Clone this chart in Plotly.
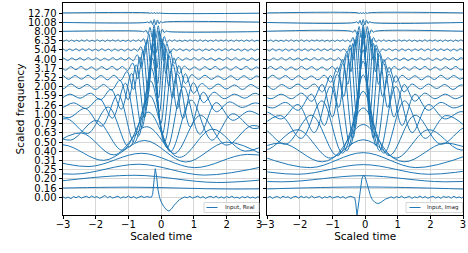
import plotly.graph_objects as go

# ---------------- data ----------------
FREQ_TICKS = ["0.00", "0.16", "0.20", "0.25", "0.31", "0.40", "0.50", "0.63", "0.79", "1.00",
              "1.26", "1.59", "2.00", "2.52", "3.17", "4.00", "5.04", "6.35", "8.00", "10.08", "12.70"]
FREQS = [0.16, 0.20, 0.25, 0.31, 0.40, 0.50, 0.63, 0.79, 1.00, 1.26,
         1.59, 2.00, 2.52, 3.17, 4.00, 5.04, 6.35, 8.00, 10.08, 12.70]
X_TICKS = [-3, -2, -1, 0, 1, 2, 3]

# input signals (row 0)
real_in_t = [-3.00, -2.92, -2.84, -2.76, -2.68, -2.60, -2.52, -2.44, -2.36, -2.28, -2.20, -2.12, -2.04, -1.96,
             -1.88, -1.80, -1.72, -1.64, -1.56, -1.48, -1.40, -1.32, -1.24, -1.16, -1.08, -1.00, -0.92, -0.84,
             -0.76, -0.68, -0.60, -0.52, -0.44, -0.36,
             -0.30, -0.26, -0.22, -0.18, -0.14, -0.10, -0.05, 0.00, 0.08, 0.16, 0.24, 0.32, 0.40, 0.48, 0.56,
             0.64, 0.72,
             0.80, 0.88, 0.96, 1.04, 1.12, 1.20, 1.28, 1.36, 1.44, 1.52, 1.60, 1.68, 1.76, 1.84, 1.92, 2.00,
             2.08, 2.16, 2.24, 2.32, 2.40, 2.48, 2.56, 2.64, 2.72, 2.80, 2.88, 2.96, 3.00]
real_in_v = [0.05, -0.10, 0.02, -0.15, 0.08, -0.05, 0.12, -0.08, 0.03, 0.10, -0.06, 0.15, -0.02, 0.08,
             -0.12, 0.05, 0.20, -0.05, 0.10, -0.08, 0.02, 0.12, -0.10, 0.06, -0.04, 0.14, -0.06, 0.08,
             -0.10, 0.05, 0.12, -0.03, 0.08, 0.02,
             0.00, 0.30, 2.00, 3.10, 2.30, 0.90, 0.00, -0.50, -1.00, -1.35, -1.50, -1.25, -0.85, -0.50, -0.25,
             -0.10, 0.05,
             -0.05, 0.10, -0.08, 0.05, 0.12, -0.06, 0.08, -0.12, 0.04, 0.10, -0.05, 0.12, -0.08, 0.06, -0.10,
             0.08, -0.04, 0.12, -0.06, 0.02, -0.12, 0.08, -0.05, 0.10, -0.08, 0.04, -0.10, 0.06, -0.02]

imag_in_t = [-3.00, -2.92, -2.84, -2.76, -2.68, -2.60, -2.52, -2.44, -2.36, -2.28, -2.20, -2.12, -2.04, -1.96,
             -1.88, -1.80, -1.72, -1.64, -1.56, -1.48, -1.40, -1.32, -1.24, -1.16, -1.08, -1.00, -0.92, -0.84,
             -0.76, -0.68, -0.60, -0.52, -0.44, -0.36,
             -0.32, -0.29, -0.27, -0.25, -0.22, -0.18, -0.14, -0.10, -0.05, 0.00, 0.05, 0.10, 0.16, 0.22, 0.30,
             0.38, 0.46, 0.54, 0.62, 0.70,
             0.80, 0.88, 0.96, 1.04, 1.12, 1.20, 1.28, 1.36, 1.44, 1.52, 1.60, 1.68, 1.76, 1.84, 1.92, 2.00,
             2.08, 2.16, 2.24, 2.32, 2.40, 2.48, 2.56, 2.64, 2.72, 2.80, 2.88, 2.96, 3.00]
imag_in_v = [-0.06, 0.10, -0.12, 0.04, 0.08, -0.10, 0.12, -0.02, 0.06, -0.14, 0.05, 0.10, -0.08, 0.12,
             -0.04, 0.08, -0.10, 0.15, -0.06, 0.02, 0.10, -0.12, 0.06, -0.05, 0.12, -0.08, 0.04, 0.10,
             -0.06, 0.08, -0.12, 0.05, 0.10, -0.04,
             -0.05, -0.60, -1.50, -1.98, -1.20, 0.00, 1.20, 2.00, 2.42, 2.20, 1.60, 0.90, 0.20, -0.25, -0.55,
             -0.68, -0.60, -0.40, -0.20, -0.10,
             0.05, -0.10, 0.08, -0.04, 0.12, -0.08, 0.02, 0.10, -0.12, 0.06, -0.05, 0.14, -0.06, 0.08, -0.10,
             0.04, 0.12, -0.08, 0.06, -0.12, 0.10, -0.02, 0.08, -0.10, 0.12, -0.06, 0.04, -0.08, 0.05]

# filtered rows: successive extremum values (row units), time of the main peak and its index
real_peak_t = [-0.95, -0.80, -0.68, -0.59, -0.50, -0.44, -0.39, -0.35, -0.32, -0.30,
               -0.275, -0.26, -0.25, -0.24, -0.23, -0.224, -0.22, -0.215, -0.212, -0.21]
real_peak_i = [1, 1, 2, 2, 3, 3, 4, 5, 6, 8, 10, 12, 15, 19, 24, 31, 38, 6, 5, 4]

r01 = [-0.08, 0.10, -0.10, 0.08]
r02 = [-0.33, 0.39, -0.39, 0.33]
r03 = [0.35, -0.49, 0.59, -0.59, 0.49]
r04 = [0.46, -0.66, 0.78, -0.78, 0.66, -0.46]
r05 = [-0.41, 0.70, -0.99, 1.17, -1.17, 0.99, -0.70]
r06 = [-0.59, 0.99, -1.40, 1.66, -1.66, 1.40, -0.99, 0.59]
r07 = [0.40, -0.79, 1.34, -1.89, 2.25, -2.25, 1.89, -1.34, 0.79, -0.40]
r08 = [-0.30, 0.53, -1.07, 1.80, -2.55, 3.03, -3.03, 2.55, -1.80, 1.07, -0.53, 0.30]
r09 = [0.25, -0.35, 0.64, -1.28, 2.15, -3.05, 3.62, -3.62, 3.05, -2.15, 1.28, -0.64, 0.35, -0.25, 0.20]
r10 = [0.25, -0.30, 0.25, -0.35, 0.71, -1.41, 2.38, -3.37, 4.01, -4.01, 3.37, -2.38, 1.41, -0.71, 0.35,
       -0.25, 0.25, -0.30]
r11 = [0.25, -0.30, 0.20, -0.25, 0.30, -0.40, 0.72, -1.45, 2.44, -3.46, 4.11, -4.11, 3.46, -2.44, 1.45,
       -0.72, 0.40, -0.30, 0.20, -0.25, 0.30, -0.20, 0.25]
r12 = [0.20, -0.25, 0.30, -0.20, 0.25, -0.30, 0.25, -0.35, 0.71, -1.41, 2.38, -3.37, 4.01, -4.01, 3.37,
       -2.38, 1.41, -0.71, 0.35, -0.25, 0.30, -0.25, 0.20, -0.30, 0.25, -0.20, 0.25]
r13 = [-0.20, 0.25, -0.20, 0.22, -0.18, 0.25, -0.20, 0.22, -0.25, 0.25, -0.32, 0.65, -1.31, 2.21, -3.13,
       3.72, -3.72, 3.13, -2.21, 1.31, -0.65, 0.32, -0.20, 0.25, -0.20, 0.18, -0.22, 0.20, -0.25, 0.20,
       -0.22, 0.18, -0.20, 0.22]
r14 = [-0.18, 0.15, -0.20, 0.18, -0.15, 0.20, -0.18, 0.15, -0.20, 0.18, -0.15, 0.20, -0.18, 0.20, -0.24,
       0.57, -1.14, 1.92, -2.72, 3.23, -3.23, 2.72, -1.92, 1.14, -0.57, 0.24, -0.18, 0.15, -0.20, 0.18,
       -0.15, 0.20, -0.18, 0.15, -0.20, 0.18, -0.15, 0.20, -0.18, 0.15, -0.20, 0.18]
r15 = [0.12, -0.14, 0.10, -0.15, 0.12, -0.10, 0.14, -0.12, 0.15, -0.10, 0.12, -0.14, 0.10, -0.12, 0.15,
       -0.10, 0.14, -0.12, 0.15, -0.19, 0.47, -0.93, 1.57, -2.22, 2.64, -2.64, 2.22, -1.57, 0.93, -0.47,
       0.19, -0.14, 0.12, -0.10, 0.14, -0.12, 0.15, -0.10, 0.12, -0.14, 0.10, -0.12, 0.15, -0.10, 0.14,
       -0.12, 0.10, -0.15, 0.12, -0.14, 0.10, -0.12, 0.14]
r16 = [-0.10, 0.12, -0.09, 0.11, -0.12, 0.10, -0.08, 0.12, -0.10, 0.11, -0.09, 0.12, -0.10, 0.08, -0.11,
       0.12, -0.10, 0.09, -0.12, 0.10, -0.11, 0.08, -0.12, 0.10, -0.09, 0.12, -0.14, 0.34, -0.69, 1.16,
       -1.65, 1.96, -1.96, 1.65, -1.16, 0.69, -0.34, 0.14, -0.09, 0.12, -0.10, 0.08, -0.12, 0.11, -0.10,
       0.09, -0.12, 0.10, -0.08, 0.12, -0.11, 0.10, -0.09, 0.12, -0.10, 0.11, -0.08, 0.10, -0.12, 0.09,
       -0.11, 0.12, -0.10, 0.08, -0.11, 0.10, -0.12]
r17 = [0.08, -0.07, 0.09, -0.06, 0.08, -0.09, 0.07, -0.08, 0.06, -0.09, 0.08, -0.07, 0.09, -0.08, 0.06,
       -0.07, 0.09, -0.08, 0.07, -0.09, 0.08, -0.06, 0.09, -0.07, 0.08, -0.09, 0.06, -0.08, 0.07, -0.09,
       0.08, -0.07, 0.09, -0.09, 0.22, -0.45, 0.76, -1.07, 1.27, -1.27, 1.07, -0.76, 0.45, -0.22, 0.09,
       -0.07, 0.09, -0.08, 0.06, -0.09, 0.07, -0.08, 0.09, -0.06, 0.08, -0.07, 0.09, -0.08, 0.07, -0.09,
       0.06, -0.08, 0.09, -0.07, 0.08, -0.06, 0.09, -0.08, 0.07, -0.09, 0.08, -0.06, 0.07, -0.09, 0.08,
       -0.07, 0.09, -0.08, 0.06, -0.07, 0.09, -0.08, 0.07]
r18 = [0.02, -0.05, 0.13, -0.26, 0.44, -0.62, 0.73, -0.73, 0.62, -0.44, 0.26, -0.13, 0.05, -0.02]
r19 = [-0.02, 0.05, -0.10, 0.17, -0.25, 0.29, -0.29, 0.25, -0.17, 0.10, -0.05, 0.02]
r20 = [0.014, -0.028, 0.047, -0.066, 0.078, -0.078, 0.066, -0.047, 0.028, -0.014]

imag_peak_t = [-0.06, -0.06, -0.06, -0.06, -0.06, -0.06, -0.06, -0.06, -0.06, -0.06,
               -0.06, -0.06, -0.06, -0.06, -0.06, -0.06, -0.06, -0.06, -0.06, -0.06]
imag_peak_i = [1, 2, 2, 2, 3, 4, 5, 5, 7, 8, 10, 13, 16, 20, 26, 32, 40, 6, 5, 4]

i01 = [-0.11, 0.12, -0.11]
i02 = [0.25, -0.32, 0.35, -0.32, 0.25]
i03 = [0.39, -0.50, 0.55, -0.50, 0.39]
i04 = [0.60, -0.78, 0.85, -0.78, 0.60]
i05 = [-0.57, 0.88, -1.15, 1.25, -1.15, 0.88, -0.57]
i06 = [0.47, -0.87, 1.34, -1.74, 1.90, -1.74, 1.34, -0.87, 0.47]
i07 = [-0.31, 0.67, -1.24, 1.91, -2.48, 2.70, -2.48, 1.91, -1.24, 0.67, -0.31]
i08 = [-0.40, 0.87, -1.60, 2.47, -3.21, 3.50, -3.21, 2.47, -1.60, 0.87, -0.40]
i09 = [-0.25, 0.30, -0.49, 1.07, -1.97, 3.04, -3.94, 4.30, -3.94, 3.04, -1.97, 1.07, -0.49, 0.30, -0.25]
i10 = [0.25, -0.30, 0.30, -0.55, 1.20, -2.20, 3.39, -4.40, 4.80, -4.40, 3.39, -2.20, 1.20, -0.55, 0.30,
       -0.30, 0.25]
i11 = [0.25, -0.30, 0.20, -0.30, 0.30, -0.57, 1.25, -2.29, 3.54, -4.59, 5.00, -4.59, 3.54, -2.29, 1.25,
       -0.57, 0.30, -0.30, 0.20, -0.30, 0.25]
i12 = [-0.25, 0.20, -0.30, 0.25, -0.20, 0.30, -0.25, 0.30, -0.56, 1.22, -2.24, 3.46, -4.49, 4.90, -4.49,
       3.46, -2.24, 1.22, -0.56, 0.30, -0.25, 0.30, -0.20, 0.25, -0.30, 0.20, -0.25]
i13 = [0.20, -0.22, 0.25, -0.18, 0.22, -0.25, 0.20, -0.22, 0.18, -0.25, 0.25, -0.51, 1.12, -2.06, 3.18,
       -4.13, 4.50, -4.13, 3.18, -2.06, 1.12, -0.51, 0.25, -0.22, 0.20, -0.25, 0.18, -0.22, 0.25, -0.20,
       0.22, -0.18, 0.25]
i14 = [0.15, -0.18, 0.20, -0.15, 0.18, -0.20, 0.15, -0.18, 0.20, -0.15, 0.18, -0.20, 0.15, -0.20, 0.20,
       -0.43, 0.95, -1.74, 2.69, -3.48, 3.80, -3.48, 2.69, -1.74, 0.95, -0.43, 0.20, -0.18, 0.15, -0.20,
       0.18, -0.15, 0.20, -0.18, 0.15, -0.20, 0.18, -0.15, 0.20, -0.18, 0.15]
i15 = [0.12, -0.14, 0.10, -0.15, 0.12, -0.10, 0.14, -0.12, 0.15, -0.10, 0.12, -0.14, 0.10, -0.12, 0.15,
       -0.10, 0.14, -0.12, 0.10, -0.15, 0.15, -0.34, 0.75, -1.37, 2.12, -2.75, 3.00, -2.75, 2.12, -1.37,
       0.75, -0.34, 0.15, -0.12, 0.10, -0.14, 0.12, -0.15, 0.10, -0.12, 0.14, -0.10, 0.12, -0.15, 0.10,
       -0.14, 0.12, -0.10, 0.15, -0.12, 0.14, -0.10]
i16 = [0.10, -0.12, 0.09, -0.11, 0.12, -0.10, 0.08, -0.12, 0.10, -0.11, 0.09, -0.12, 0.10, -0.08, 0.11,
       -0.12, 0.10, -0.09, 0.12, -0.10, 0.11, -0.08, 0.12, -0.10, 0.09, -0.12, 0.11, -0.25, 0.55, -1.01,
       1.56, -2.02, 2.20, -2.02, 1.56, -1.01, 0.55, -0.25, 0.11, -0.09, 0.12, -0.10, 0.08, -0.12, 0.11,
       -0.10, 0.09, -0.12, 0.10, -0.08, 0.12, -0.11, 0.10, -0.09, 0.12, -0.10, 0.11, -0.08, 0.10, -0.12,
       0.09, -0.11, 0.12, -0.10]
i17 = [0.08, -0.07, 0.09, -0.06, 0.08, -0.09, 0.07, -0.08, 0.06, -0.09, 0.08, -0.07, 0.09, -0.08, 0.06,
       -0.07, 0.09, -0.08, 0.07, -0.09, 0.08, -0.06, 0.09, -0.07, 0.08, -0.09, 0.06, -0.08, 0.07, -0.09,
       0.08, -0.07, 0.09, -0.08, 0.07, -0.16, 0.35, -0.64, 0.99, -1.28, 1.40, -1.28, 0.99, -0.64, 0.35,
       -0.16, 0.07, -0.07, 0.09, -0.08, 0.06, -0.09, 0.07, -0.08, 0.09, -0.06, 0.08, -0.07, 0.09, -0.08,
       0.07, -0.09, 0.06, -0.08, 0.09, -0.07, 0.08, -0.06, 0.09, -0.08, 0.07, -0.09, 0.08, -0.06, 0.07,
       -0.09, 0.08, -0.07, 0.09, -0.08]
i18 = [0.03, -0.09, 0.19, -0.34, 0.53, -0.69, 0.75, -0.69, 0.53, -0.34, 0.19, -0.09, 0.03]
i19 = [-0.03, 0.07, -0.14, 0.21, -0.28, 0.30, -0.28, 0.21, -0.14, 0.07, -0.03]
i20 = [0.02, -0.037, 0.057, -0.073, 0.08, -0.073, 0.057, -0.037, 0.02]

real_rows = [r01, r02, r03, r04, r05, r06, r07, r08, r09, r10, r11, r12, r13, r14, r15, r16, r17, r18, r19, r20]
imag_rows = [i01, i02, i03, i04, i05, i06, i07, i08, i09, i10, i11, i12, i13, i14, i15, i16, i17, i18, i19, i20]

# ---------------- figure ----------------
BLUE = "#1f77b4"
FONT = "DejaVu Sans"
W, H = 468, 253
ML, MR, MT, MB = 63, 5, 3, 38
PW, PH = W - ML - MR, H - MT - MB


def row_xy(k, f, vals, pk_t, pk_i):
    h = 1.0 / (2.0 * f)
    xs = [pk_t + (i - pk_i) * h for i in range(len(vals))]
    ys = [k + v for v in vals]
    if xs[0] > -3.0:
        xs.insert(0, -3.3)
        ys.insert(0, k)
    if xs[-1] < 3.0:
        xs.append(3.3)
        ys.append(k)
    return xs, ys


fig = go.Figure()
panels = [
    ("x", "y", real_in_t, real_in_v, real_rows, real_peak_t, real_peak_i),
    ("x2", "y2", imag_in_t, imag_in_v, imag_rows, imag_peak_t, imag_peak_i),
]
for xa, ya, in_t, in_v, rows, pk_t, pk_i in panels:
    fig.add_trace(go.Scatter(x=in_t, y=in_v, mode="lines", xaxis=xa, yaxis=ya,
                             line=dict(color=BLUE, width=1), hoverinfo="skip", showlegend=False))
    for k in range(1, 21):
        xs, ys = row_xy(k, FREQS[k - 1], rows[k - 1], pk_t[k - 1], pk_i[k - 1])
        fig.add_trace(go.Scatter(x=xs, y=ys, mode="lines", xaxis=xa, yaxis=ya,
                                 line=dict(color=BLUE, width=1, shape="spline", smoothing=1.0),
                                 hoverinfo="skip", showlegend=False))

x_dom1 = [0.0, 196.3 / PW]
x_dom2 = [204.3 / PW, 1.0]

axis_common = dict(showline=True, mirror=True, linecolor="black", linewidth=0.8,
                   showgrid=True, gridcolor="#d6d6d6", gridwidth=0.8, zeroline=False,
                   ticks="outside", ticklen=3.5, tickwidth=0.8, tickcolor="black",
                   tickfont=dict(family=FONT, size=10, color="black"))

title_font = dict(family=FONT, size=10.5, color="black")
fig.update_layout(
    width=W, height=H, margin=dict(l=ML, r=MR, t=MT, b=MB),
    paper_bgcolor="white", plot_bgcolor="white", showlegend=False,
    xaxis=dict(domain=x_dom1, range=[-3, 3], tickvals=X_TICKS, anchor="y", automargin=False,
               ticklabelstandoff=-3,
               title=dict(text="Scaled time", font=title_font, standoff=0), **axis_common),
    xaxis2=dict(domain=x_dom2, range=[-3, 3], tickvals=X_TICKS, anchor="y2", automargin=False,
                ticklabelstandoff=-3,
                title=dict(text="Scaled time", font=title_font, standoff=0), **axis_common),
    yaxis=dict(range=[-1.92, 21.09], tickvals=list(range(21)), ticktext=FREQ_TICKS, anchor="x",
               automargin=False,
               title=dict(text="Scaled frequency", font=title_font, standoff=1), **axis_common),
    yaxis2=dict(range=[-1.92, 21.09], tickvals=list(range(21)), showticklabels=False, anchor="x2",
                matches="y", automargin=False, **axis_common),
)


# hand-drawn legends in the lower-right corner of each panel
def px_x(px):
    return (px - ML) / PW


def px_y(py):
    return (MT + PH - py) / PH


for (bx0, bx1, lx0, lx1, tx, label) in [(204, 259, 206.5, 217.5, 222.5, "Input, Real"),
                                        (406, 462.5, 409.5, 420.5, 425, "Input, Imag")]:
    fig.add_shape(type="rect", xref="paper", yref="paper", x0=px_x(bx0), x1=px_x(bx1),
                  y0=px_y(212.5), y1=px_y(202.5), line=dict(color="#cccccc", width=0.8),
                  fillcolor="rgba(255,255,255,0.85)", layer="above")
    fig.add_shape(type="line", xref="paper", yref="paper", x0=px_x(lx0), x1=px_x(lx1),
                  y0=px_y(207.5), y1=px_y(207.5), line=dict(color=BLUE, width=1), layer="above")
    fig.add_annotation(xref="paper", yref="paper", x=px_x(tx), y=px_y(207.5), text=label,
                       showarrow=False, xanchor="left", yanchor="middle",
                       font=dict(family=FONT, size=5.5, color="#222222"))

fig.write_html("out.html")
